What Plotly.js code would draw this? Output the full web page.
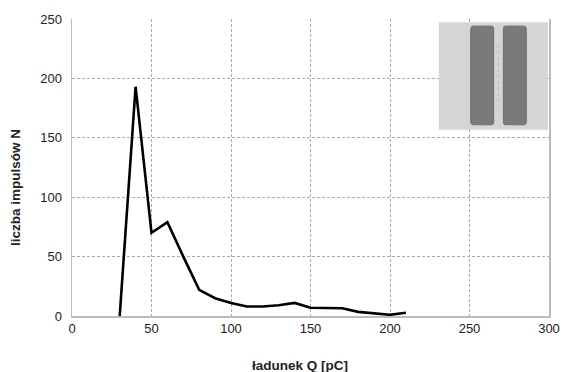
<!DOCTYPE html>
<html><head><meta charset="utf-8">
<script src="https://cdn.plot.ly/plotly-3.0.1.min.js"></script>
<style>html,body{margin:0;padding:0;background:#fff}#c{width:564px;height:372px}</style>
</head><body><div id="c"></div>
<script>
const charge = [30, 40, 50, 60, 70, 80, 90, 100, 110, 120, 130, 140, 150, 160, 170, 180, 190, 200, 210];
const pulses = [0, 193, 70, 79, 50, 22, 15, 11, 8, 8, 9, 11, 7, 7, 6.5, 3.5, 2.5, 1, 2.8];
const xTicks = [0, 50, 100, 150, 200, 250, 300];
const yTicks = [0, 50, 100, 150, 200, 250];
const xTitle = 'ładunek Q [pC]';
const yTitle = 'liczba impulsów N';

function rrect(x0, x1, y0, y1, rx, ry) {
  return `M${x0+rx},${y0} L${x1-rx},${y0} Q${x1},${y0} ${x1},${y0+ry} L${x1},${y1-ry} Q${x1},${y1} ${x1-rx},${y1} L${x0+rx},${y1} Q${x0},${y1} ${x0},${y1-ry} L${x0},${y0+ry} Q${x0},${y0} ${x0+rx},${y0} Z`;
}

const trace = {x: charge, y: pulses, type: 'scatter', mode: 'lines',
  line: {color: '#000', width: 2.6}, hoverinfo: 'skip'};

const titleFont = {size: 13.5, color: '#222', family: 'Liberation Sans, Arial, sans-serif', weight: 'bold'};

const layout = {
  width: 564, height: 372,
  margin: {l: 72, r: 15, t: 19, b: 56},
  paper_bgcolor: '#fff', plot_bgcolor: '#fff',
  showlegend: false,
  font: {family: 'Liberation Sans, Arial, sans-serif', color: '#333', size: 13},
  xaxis: {range: [0, 300], tickvals: xTicks, ticks: '', showgrid: true,
    gridcolor: '#aaa', griddash: '3px,2px', gridwidth: 1, zeroline: false,
    showline: true, linecolor: '#bbb', linewidth: 1.5, mirror: false,
    tickfont: {size: 13, color: '#222'}},
  yaxis: {range: [0, 250], tickvals: yTicks, ticks: '', showgrid: true,
    gridcolor: '#aaa', griddash: '3px,2px', gridwidth: 1, zeroline: false,
    showline: true, linecolor: '#bbb', linewidth: 1.5, mirror: true,
    ticklabelstandoff: 6,
    tickfont: {size: 13, color: '#222'}},
  annotations: [
    {text: xTitle, xref: 'paper', yref: 'paper', x: (300-72)/477, y: -49/297,
      xanchor: 'center', yanchor: 'middle', showarrow: false, font: titleFont},
    {text: yTitle, xref: 'paper', yref: 'paper', x: -57/477, y: (316-188)/297,
      xanchor: 'center', yanchor: 'middle', textangle: -90, showarrow: false, font: titleFont}
  ],
  shapes: [
    {type: 'rect', xref: 'x', yref: 'y', x0: 230.8, x1: 299.3, y0: 156.7, y1: 247.2,
      fillcolor: '#d5d5d5', line: {width: 0}, layer: 'above'},
    {type: 'line', xref: 'x', yref: 'y', x0: 268, x1: 268, y0: 175, y1: 230,
      line: {color: '#bdbdbd', width: 1, dash: 'dot'}, layer: 'above'},
    {type: 'path', xref: 'x', yref: 'y', path: rrect(250.8, 265.2, 161, 244, 1.6, 2.2),
      fillcolor: '#7a7a7a', line: {color: '#6c6c6c', width: 1}, layer: 'above'},
    {type: 'path', xref: 'x', yref: 'y', path: rrect(271.3, 285.7, 161, 244, 1.6, 2.2),
      fillcolor: '#7a7a7a', line: {color: '#6c6c6c', width: 1}, layer: 'above'}
  ]
};
Plotly.newPlot('c', [trace], layout, {staticPlot: true, displayModeBar: false});
</script></body></html>
